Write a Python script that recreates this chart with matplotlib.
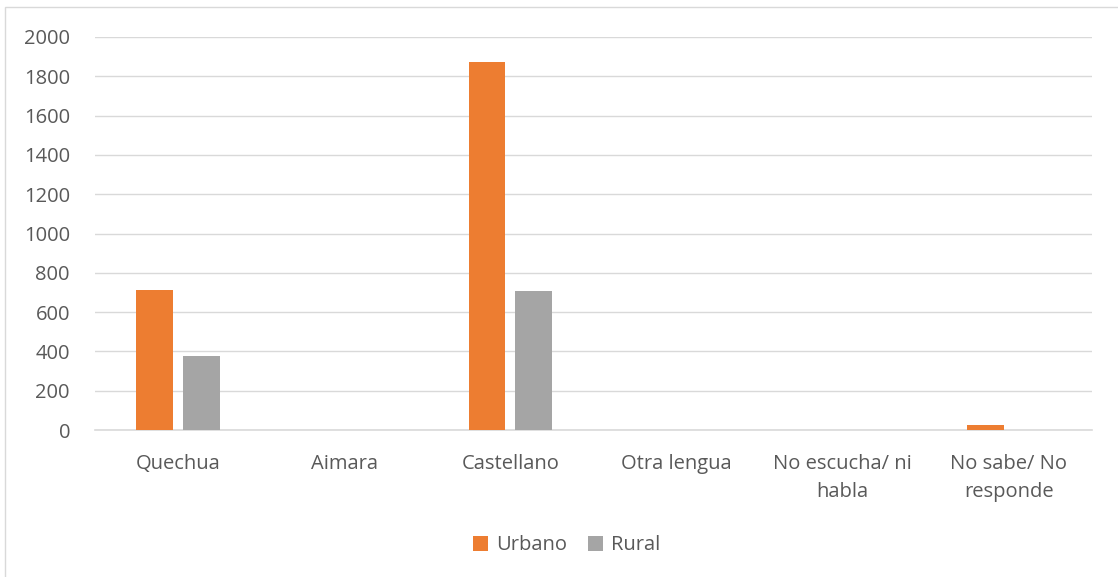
import numpy as np
import matplotlib.pyplot as plt
from matplotlib.patches import Rectangle

plt.rcParams['font.family'] = ['Open Sans', 'DejaVu Sans']

# categorie e valori
categorias = ['Quechua', 'Aimara', 'Castellano', 'Otra lengua',
              'No escucha/ ni\nhabla', 'No sabe/ No\nresponde']
urbano = [712, 0, 1873, 0, 2, 27]
rural = [377, 0, 707, 0, 0, 0]
yticks = [0, 200, 400, 600, 800, 1000, 1200, 1400, 1600, 1800, 2000]

col_urb = '#ED7D31'
col_rur = '#A5A5A5'
txt = '#595959'
fs = 14.5

fig = plt.figure(figsize=(11.18, 5.77), dpi=100)
ax = fig.add_axes([95 / 1118, 1 - 430 / 577, 997 / 1118, 393 / 577])

x = np.arange(len(categorias))
w = 0.222
ax.bar(x - w / 2 - 0.03, urbano, w, color=col_urb, label='Urbano', zorder=3)
ax.bar(x + w / 2 + 0.03, rural, w, color=col_rur, label='Rural', zorder=3)

ax.set_xlim(-0.5, len(categorias) - 0.5)
ax.set_ylim(0, 2000)
ax.set_yticks(yticks)
ax.set_xticks(x)
ax.set_xticklabels(categorias, color=txt, fontsize=fs, linespacing=1.55)
ax.tick_params(axis='y', colors=txt, labelsize=fs, length=0, pad=18)
ax.tick_params(axis='x', length=0, pad=17)
ax.grid(axis='y', color='#D9D9D9', linewidth=1, zorder=0)
for s in ['top', 'right', 'left']:
    ax.spines[s].set_visible(False)
ax.spines['bottom'].set_color('#D9D9D9')
ax.spines['bottom'].set_linewidth(1.2)

leg = ax.legend(loc='center', bbox_to_anchor=(0.473, -0.293), ncol=2, frameon=False,
                fontsize=fs, handlelength=0.75, handleheight=0.75,
                columnspacing=1.0, handletextpad=0.4)
for t in leg.get_texts():
    t.set_color(txt)

# bordo esterno del grafico
fig.patches.append(Rectangle((5 / 1118, -0.05), 1.2, 1 - 7 / 577 + 0.05,
                             transform=fig.transFigure, fill=False,
                             edgecolor='#D9D9D9', linewidth=1))

fig.savefig('out.png', dpi=100)
